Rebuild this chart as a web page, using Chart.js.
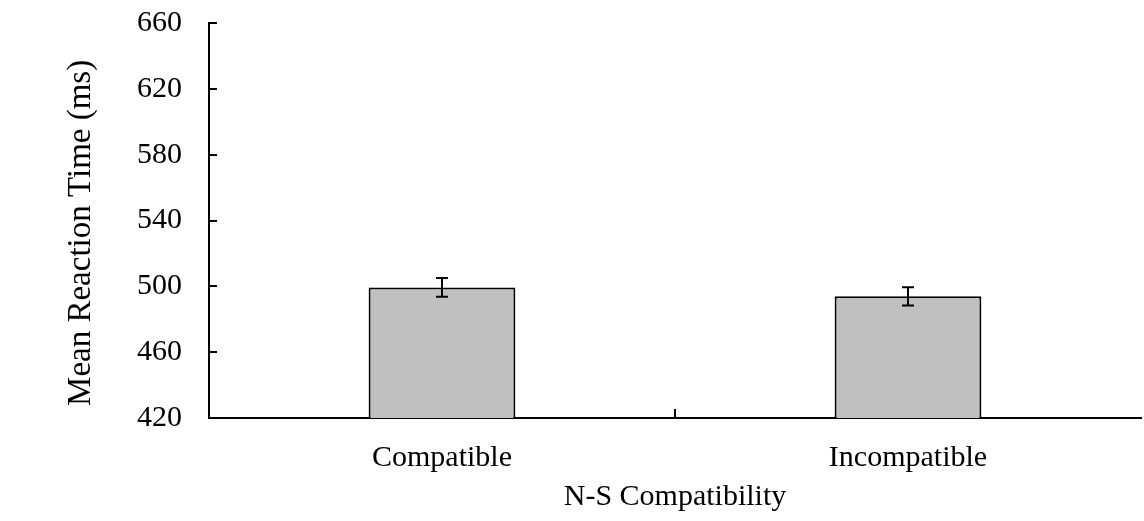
<!DOCTYPE html>
<html>
<head>
<meta charset="utf-8">
<script src="https://cdn.jsdelivr.net/npm/chart.js@4.4.1/dist/chart.umd.min.js"></script>
<style>
    html, body { margin: 0; padding: 0; background: #fff; }
    #wrap { width: 1144px; height: 521px; position: relative; }
</style>
</head>
<body>
<div id="wrap"><canvas id="rt-chart"></canvas></div>
<script>
const categories = ['Compatible', 'Incompatible'];
const meanRT = [499.3, 493.9];
const errorRT = [5.7, 5.6];
const yTicks = [420, 460, 500, 540, 580, 620, 660];

const serif = "'Liberation Serif', 'Times New Roman', serif";

// inward tick marks + error bars
const extras = {
    id: 'extras',
    afterDatasetsDraw(chart) {
        const ctx = chart.ctx;
        const x = chart.scales.x;
        const y = chart.scales.y;
        const area = chart.chartArea;
        ctx.save();
        ctx.strokeStyle = '#000';
        ctx.lineWidth = 2;

        // y ticks pointing into the plot
        yTicks.forEach(v => {
            const py = Math.round(y.getPixelForValue(v));
            ctx.beginPath();
            ctx.moveTo(area.left, py);
            ctx.lineTo(area.left + 8, py);
            ctx.stroke();
        });

        // x tick between categories
        for (let i = 0; i < categories.length - 1; i++) {
            const px = Math.round((x.getPixelForValue(i) + x.getPixelForValue(i + 1)) / 2);
            ctx.beginPath();
            ctx.moveTo(px, area.bottom);
            ctx.lineTo(px, area.bottom - 9);
            ctx.stroke();
        }

        // error bars
        const meta = chart.getDatasetMeta(0);
        meta.data.forEach((bar, i) => {
            const cx = Math.round(bar.x);
            const top = y.getPixelForValue(meanRT[i] + errorRT[i]);
            const bot = y.getPixelForValue(meanRT[i] - errorRT[i]);
            ctx.beginPath();
            ctx.moveTo(cx, top);
            ctx.lineTo(cx, bot);
            ctx.moveTo(cx - 6, top);
            ctx.lineTo(cx + 6, top);
            ctx.moveTo(cx - 6, bot);
            ctx.lineTo(cx + 6, bot);
            ctx.stroke();
        });
        ctx.restore();
    }
};

new Chart(document.getElementById('rt-chart'), {
    type: 'bar',
    plugins: [extras],
    data: {
        labels: categories,
        datasets: [{
            label: 'Mean RT',
            data: meanRT,
            backgroundColor: '#c0c0c0',
            borderColor: '#000',
            borderWidth: 2,
            borderSkipped: false,
            categoryPercentage: 1,
            barPercentage: 0.315,
        }]
    },
    options: {
        responsive: true,
        maintainAspectRatio: false,
        animation: false,
        layout: {
            padding: { top: 23, right: 3, left: 0, bottom: 0 }
        },
        plugins: {
            legend: { display: false },
            tooltip: { enabled: false }
        },
        scales: {
            x: {
                afterFit(scale) { scale.height = 103; },
                grid: { drawOnChartArea: false, drawTicks: false },
                border: { display: true, color: '#000', width: 2 },
                ticks: {
                    color: '#000',
                    padding: 22,
                    font: { family: serif, size: 30 }
                },
                title: {
                    display: true,
                    text: 'N-S Compatibility',
                    color: '#000',
                    padding: { top: 0, bottom: 6 },
                    font: { family: serif, size: 30 }
                }
            },
            y: {
                min: 420,
                max: 660,
                afterFit(scale) {
                    scale.width = 209;
                    scale.paddingTop = 0;
                    scale.paddingBottom = 0;
                },
                afterBuildTicks(scale) {
                    scale.ticks = yTicks.map(v => ({ value: v }));
                },
                grid: { drawOnChartArea: false, drawTicks: false },
                border: { display: true, color: '#000', width: 2 },
                ticks: {
                    color: '#000',
                    padding: 27,
                    font: { family: serif, size: 30 }
                },
                title: {
                    display: true,
                    // trailing spaces nudge the rotated title down a little
                    text: 'Mean Reaction Time (ms)   ',
                    color: '#000',
                    padding: { top: 62, bottom: 0 },
                    font: { family: serif, size: 33 }
                }
            }
        }
    }
});
</script>
</body>
</html>
